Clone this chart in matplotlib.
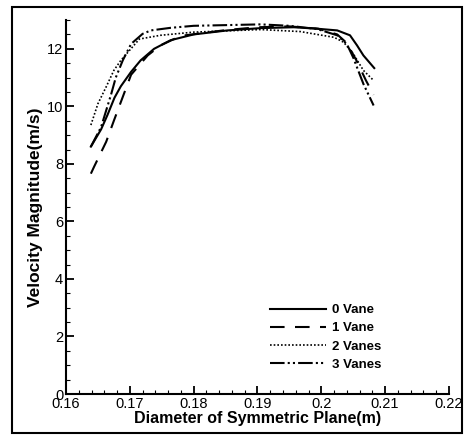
import matplotlib
matplotlib.use("Agg")
import matplotlib.pyplot as plt
from matplotlib.patches import Rectangle
from matplotlib.ticker import MultipleLocator

plt.rcParams['font.family'] = ['Liberation Sans', 'DejaVu Sans']

# 0 Vane
x0 = [0.1639, 0.1655, 0.1665, 0.1676, 0.1686, 0.1702, 0.1717, 0.1738, 0.1764, 0.18,
      0.1853, 0.1905, 0.1957, 0.1993, 0.2025, 0.2045, 0.2056, 0.2066, 0.2083]
v0 = [8.6, 9.2, 9.7, 10.3, 10.7, 11.2, 11.6, 12.0, 12.3, 12.5,
      12.64, 12.72, 12.75, 12.7, 12.64, 12.47, 12.12, 11.77, 11.33]

# 1 Vane
x1 = [0.1639, 0.1644, 0.1663, 0.1675, 0.1689, 0.1702, 0.1728, 0.1748, 0.178, 0.185,
      0.19, 0.195, 0.1995, 0.2025, 0.204, 0.2055, 0.207, 0.2082]
v1 = [7.66, 7.9, 8.77, 9.5, 10.33, 11.1, 11.77, 12.12, 12.45, 12.65,
      12.75, 12.78, 12.7, 12.5, 12.2, 11.6, 10.9, 10.4]

# 2 Vanes
x2 = [0.1639, 0.165, 0.1663, 0.1675, 0.1686, 0.1715, 0.1748, 0.18, 0.1905, 0.1967,
      0.202, 0.2035, 0.205, 0.2066, 0.2082]
v2 = [9.35, 10.09, 10.68, 11.25, 11.6, 12.34, 12.47, 12.58, 12.67, 12.6,
      12.4, 12.23, 11.83, 11.25, 10.9]

# 3 Vanes
x3 = [0.1639, 0.1655, 0.1663, 0.1671, 0.1678, 0.1689, 0.1702, 0.172, 0.1733, 0.1764,
      0.18, 0.1905, 0.195, 0.1993, 0.2025, 0.204, 0.205, 0.2066, 0.2082]
v3 = [8.6, 9.28, 9.86, 10.44, 11.0, 11.6, 12.17, 12.52, 12.64, 12.73,
      12.8, 12.85, 12.8, 12.69, 12.47, 12.17, 11.7, 10.78, 10.03]

labels = ['0 Vane', '1 Vane', '2 Vanes', '3 Vanes']

fig = plt.figure(figsize=(4.67, 4.36), dpi=100)
ax = fig.add_axes([0.1413, 0.0963, 0.82, 0.8577])

ax.plot(x0, v0, color='black', lw=1.5, label=labels[0])
ax.plot(x1, v1, color='black', lw=1.5, dashes=(7, 5), label=labels[1])
ax.plot(x2, v2, color='black', lw=1.2, dashes=(1, 1.2), label=labels[2])
ax.plot(x3, v3, color='black', lw=1.5, dashes=(7, 1.5, 1, 1.5, 1, 1.5), label=labels[3])

ax.set_xlim(0.16, 0.22)
ax.set_ylim(0, 13)
ax.xaxis.set_minor_locator(MultipleLocator(0.002))
ax.yaxis.set_major_locator(MultipleLocator(2))
ax.yaxis.set_minor_locator(MultipleLocator(0.5))
ax.set_xticks([0.16, 0.17, 0.18, 0.19, 0.2, 0.21, 0.22])
ax.set_xticklabels(['0.16', '0.17', '0.18', '0.19', '0.2', '0.21', '0.22'])

ax.spines['top'].set_visible(False)
ax.spines['right'].set_visible(False)
ax.spines['left'].set_linewidth(1.5)
ax.spines['bottom'].set_linewidth(1.5)
ax.tick_params(which='major', direction='in', length=6, width=1.3, labelsize=10.5, pad=2)
ax.tick_params(which='minor', direction='in', length=3, width=0.8)

ax.set_xlabel('Diameter of Symmetric Plane(m)', fontsize=11.5, fontweight='bold', labelpad=0)
ax.set_ylabel('Velocity Magnitude(m/s)', fontsize=12.5, fontweight='bold', labelpad=3)

ax.legend(loc='upper left', bbox_to_anchor=(0.553, 0.33), bbox_transform=fig.transFigure,
          frameon=False, handlelength=4.2, handletextpad=0.5, labelspacing=0.45,
          prop={'weight': 'bold', 'size': 9.5})

fig.patches.append(Rectangle((0.026, 0.007), 0.964, 0.977, transform=fig.transFigure,
                             fill=False, edgecolor='black', lw=1.5))

fig.savefig('out.png', dpi=100)
